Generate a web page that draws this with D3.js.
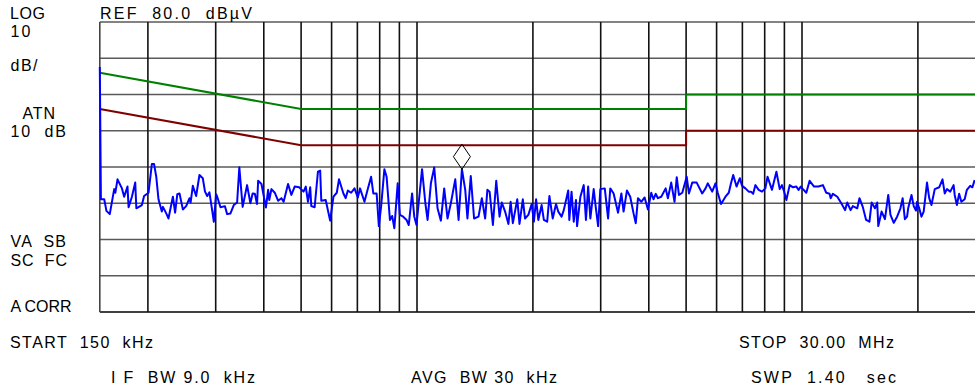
<!DOCTYPE html>
<html><head><meta charset="utf-8">
<script src="https://cdn.jsdelivr.net/npm/d3@7"></script>
<style>
html,body{margin:0;padding:0;background:#fff;}
svg{display:block;font-family:"Liberation Sans",Arial,Helvetica,sans-serif;}
text{white-space:pre;}
</style></head><body><svg id="c" width="975" height="389"></svg>
<script>
// ---- data ----
const startHz = 150e3, stopHz = 30e6, sweepPoints = 801;
const refLevel = 80, bottomLevel = 0;
const levelTicks = [0, 10, 20, 30, 40, 50, 60, 70, 80];
const gridFreqs = [150e3, 200e3, 300e3, 400e3, 500e3, 600e3, 700e3, 800e3, 900e3,
  1e6, 2e6, 3e6, 4e6, 5e6, 6e6, 7e6, 8e6, 9e6, 10e6, 20e6, 30e6];
const limitFreqs = [150e3, 500e3, 5e6, 5e6, 30e6];
const qpLimit = [66, 56, 56, 60, 60];
const avgLimit = [56, 46, 46, 50, 50];
const traceIdx = [0,1,4,6,9,13,14,16,20,22,25,26,29,32,33,38,40,44,47,49,51,53,56,57,60,62,66,68,70,72,75,78,81,82,84,87,90,93,95,97,99,101,103,105,106,109,113,115,118,121,124,126,129,133,136,138,140,142,143,146,150,152,153,155,158,161,164,166,170,173,176,180,184,186,188,190,191,194,197,199,
200,204,208,211,214,216,220,222,224,227,230,233,235,239,242,245,247,250,252,254,257,259,262,264,266,269,271,274,277,279,282,284,286,291,294,296,299,302,305,308,311,314,317,321,324,327,330,332,335,338,342,345,348,350,352,355,358,361,363,366,369,371,373,377,379,382,384,387,390,392,394,396,399,401,
404,406,409,412,414,417,419,423,424,426,428,430,431,434,437,439,441,443,446,448,450,452,456,459,461,464,468,471,473,476,479,482,484,486,489,492,495,498,500,502,504,507,511,513,516,519,521,523,526,530,532,535,539,544,547,549,553,556,558,561,565,568,570,572,575,578,580,583,586,588,590,592,595,598,601,
603,607,611,614,616,618,620,623,626,629,631,633,635,638,641,645,649,653,656,659,660,662,666,670,673,675,678,680,684,686,689,692,695,697,700,702,703,706,709,712,714,717,720,723,725,727,729,730,733,735,737,738,740,742,744,747,749,751,754,758,761,763,765,768,771,772,774,776,778,781,783,786,788,790];
const traceLevel = [67.6,31.1,31.1,27.9,27.0,33.9,32.9,36.6,34.1,31.8,34.6,28.9,31.8,35.7,28.6,29.5,32.0,32.9,40.8,40.8,37.3,31.1,27.7,29.0,27.2,25.8,31.8,27.4,32.5,32.7,28.3,29.2,31.4,30.2,34.8,32.0,37.8,36.9,33.2,32.0,33.0,29.0,24.9,32.5,31.8,28.9,29.2,27.0,27.2,29.5,30.2,39.9,29.0,35.0,30.0,32.7,32.6,29.8,36.2,35.3,28.8,33.7,30.9,33.9,32.9,30.7,31.4,30.4,35.3,32.3,34.6,34.4,33.2,34.6,30.4,34.4,29.2,28.9,38.7,39.0,
30.7,30.9,25.2,31.8,32.9,36.6,32.7,31.4,33.5,32.9,34.1,31.6,34.1,30.4,33.9,37.3,32.7,32.7,23.7,29.0,39.4,37.3,25.4,26.5,23.1,35.5,26.8,26.3,25.4,24.0,32.7,26.3,24.0,39.4,30.0,25.4,35.5,39.9,28.6,25.2,34.1,25.8,30.0,36.6,25.4,39.4,33.7,25.8,37.5,25.8,26.3,31.4,25.8,33.7,33.2,24.0,36.2,26.3,30.2,27.7,24.3,30.4,24.5,31.1,24.3,31.1,25.8,26.8,29.8,24.9,31.1,25.4,29.5,25.4,
24.9,32.0,25.8,29.8,27.7,26.3,28.1,33.5,25.4,33.2,24.9,30.9,23.7,31.8,35.0,25.4,34.6,25.8,33.9,28.6,23.7,33.9,34.1,25.8,34.1,32.7,27.4,32.7,27.7,33.5,31.8,27.2,24.5,31.4,30.4,31.6,28.3,32.9,31.1,32.6,31.4,31.8,34.1,31.4,35.7,30.4,37.2,32.3,32.9,37.3,32.7,35.7,35.7,32.7,34.1,35.5,33.2,35.5,32.9,29.8,31.8,32.9,35.5,37.8,34.6,36.9,34.8,34.1,33.2,33.2,32.6,35.0,33.7,33.2,34.1,
37.3,33.7,38.7,33.9,35.0,33.2,30.9,35.0,34.4,34.6,33.7,34.6,33.9,32.9,36.2,34.6,34.6,35.0,32.9,32.6,31.4,32.6,31.8,29.8,28.1,30.2,28.1,29.2,28.6,31.4,29.0,25.4,24.9,30.2,28.6,30.2,23.7,27.7,25.6,32.3,26.8,24.6,26.3,28.6,31.4,25.6,26.3,28.6,32.3,29.2,28.0,30.4,28.6,26.3,27.7,35.7,31.4,29.5,33.9,34.4,36.6,32.7,33.9,33.2,35.0,32.3,29.5,32.6,30.4,31.1,33.7,34.8,34.4,36.4];
const markerIdx = 327;
const labels = [
  {t:"LOG", x:10, y:19, w:35},
  {t:"10", x:10.5, y:37, w:20},
  {t:"dB/", x:10.5, y:70.5, w:27},
  {t:"ATN", x:22.5, y:119, w:32.5},
  {t:"10  dB", x:10.5, y:137, w:55.5},
  {t:"REF  80.0  dBµV", x:100, y:19, w:152},
  {t:"VA  SB", x:10.5, y:246.5, w:55.5},
  {t:"SC  FC", x:10.5, y:265.5, w:56.5},
  {t:"A CORR", x:10.5, y:312, w:61},
  {t:"START  150  kHz", x:10, y:348, w:143},
  {t:"STOP  30.00  MHz", x:739, y:348, w:155},
  {t:"I F  BW 9.0  kHz", x:111, y:383, w:144},
  {t:"AVG  BW 30  kHz", x:411, y:383, w:146},
  {t:"SWP  1.40   sec", x:751, y:383, w:145}
];

// ---- drawing ----
const svg = d3.select("#c");
const x = d3.scaleLog().domain([startHz, stopHz]).range([99.8, 985.7]);
const y = d3.scaleLinear().domain([bottomLevel, refLevel]).range([312, 22]);
const sweepFreq = i => startHz * Math.pow(stopHz / startHz, i / (sweepPoints - 1));

const g = svg.append("g");
// horizontal grid
g.selectAll("line.h").data(levelTicks).join("line")
  .attr("x1", x(startHz)).attr("x2", x(stopHz))
  .attr("y1", d => y(d)).attr("y2", d => y(d))
  .attr("stroke", d => d === bottomLevel ? "#000" : "#5a5a5a")
  .attr("stroke-width", d => d === bottomLevel ? 1.6 : 1.6);
// vertical grid
g.selectAll("line.v").data(gridFreqs).join("line")
  .attr("x1", d => x(d)).attr("x2", d => x(d))
  .attr("y1", y(refLevel)).attr("y2", y(bottomLevel))
  .attr("stroke", d => d === startHz ? "#444" : "#111")
  .attr("stroke-width", 1.6);

const lineGen = d3.line().x(d => x(d[0])).y(d => y(d[1]));
// limit lines
svg.append("path").datum(limitFreqs.map((f, i) => [f, qpLimit[i]]))
  .attr("d", lineGen).attr("fill", "none").attr("stroke", "#008000").attr("stroke-width", 2);
svg.append("path").datum(limitFreqs.map((f, i) => [f, avgLimit[i]]))
  .attr("d", lineGen).attr("fill", "none").attr("stroke", "#800000").attr("stroke-width", 2);

// trace
svg.append("path").datum(traceIdx.map((k, i) => [sweepFreq(k), traceLevel[i]]))
  .attr("d", lineGen).attr("fill", "none").attr("stroke", "#0000ff")
  .attr("stroke-width", 2).attr("stroke-linejoin", "round");

// marker
const mi = traceIdx.indexOf(markerIdx);
const mx = x(sweepFreq(markerIdx)), my = y(traceLevel[mi]);
svg.append("path")
  .attr("d", `M${mx},${my} L${mx + 8.5},${my - 12.5} L${mx},${my - 25} L${mx - 8.5},${my - 12.5} Z`)
  .attr("fill", "none").attr("stroke", "#000").attr("stroke-width", 1);

// texts
svg.selectAll("text.lbl").data(labels).join("text")
  .attr("x", d => d.x).attr("y", d => d.y)
  .attr("font-size", 16).attr("fill", "#000")
  .attr("textLength", d => d.w).attr("lengthAdjust", "spacing")
  .text(d => d.t);
</script></body></html>
